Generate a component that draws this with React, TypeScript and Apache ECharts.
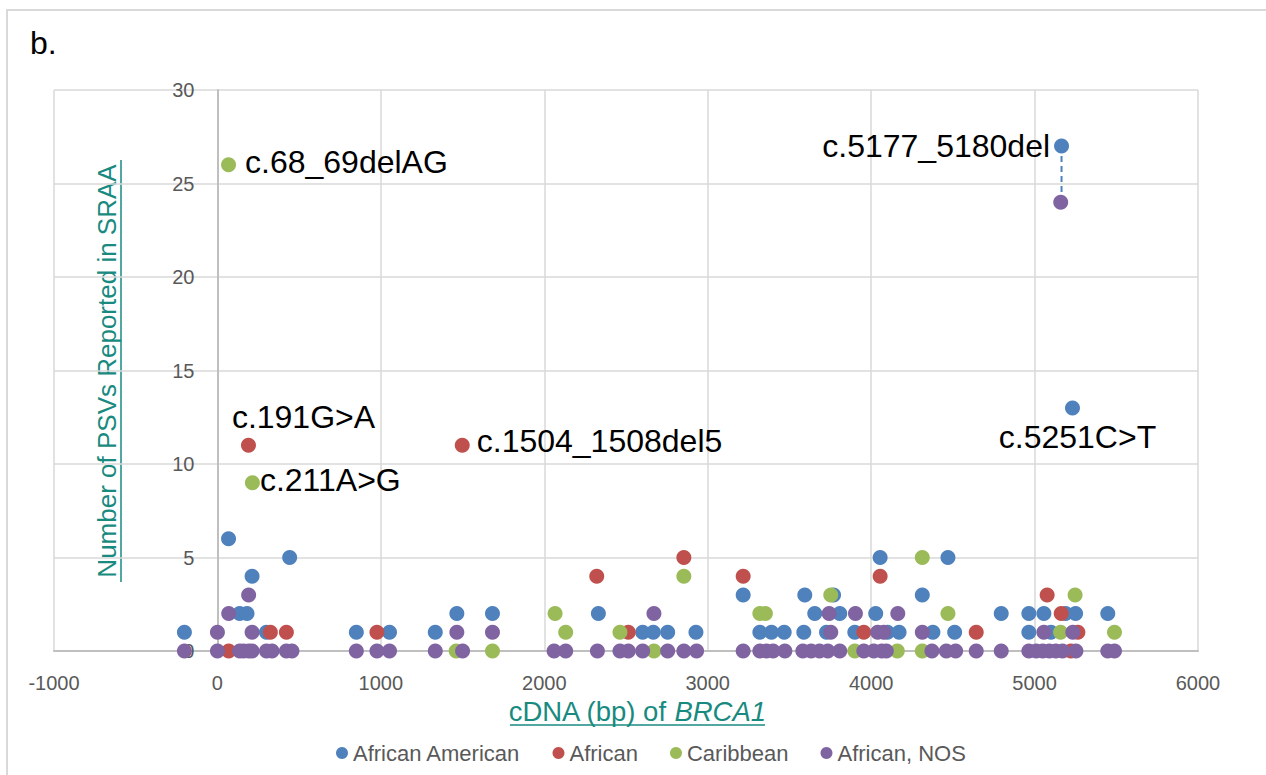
import React, { useEffect, useRef } from "react";
import * as echarts from "echarts";

const FONT = 'Arial, "Liberation Sans", sans-serif';
const TEAL = "#188a80";

const seriesNames = ["African American", "African", "Caribbean", "African, NOS"];
const seriesColors = ["#4F81BD", "#C0504D", "#9BBB59", "#8064A2"];

const xMin = -1000;
const xMax = 6000;
const xStep = 1000;
const yMin = 0;
const yMax = 30;
const yStep = 5;

// [cDNA position (bp), number of PSVs]
const africanAmerican: [number, number][] = [
  [-202, 1], [68, 6], [136, 2], [181, 2], [212, 4], [300, 1], [442, 5], [850, 1], [1053, 1],
  [1333, 1], [1465, 2], [1683, 2], [2331, 2], [2602, 1], [2667, 1], [2755, 1], [2928, 1],
  [3217, 3], [3319, 1], [3390, 1], [3468, 1], [3588, 1], [3594, 3], [3655, 2], [3727, 1],
  [3770, 3], [3808, 2], [3900, 1], [4028, 2], [4055, 5], [4100, 1], [4171, 1], [4313, 3],
  [4378, 1], [4470, 5], [4511, 1], [4796, 2], [4965, 2], [4965, 1], [5057, 2], [5100, 1],
  [5190, 2], [5165, 27], [5232, 13], [5251, 2], [5448, 2],
];

const african: [number, number][] = [
  [69, 0], [190, 11], [324, 1], [422, 1], [976, 1], [1498, 11], [2321, 4], [2514, 1],
  [2854, 5], [3217, 4], [3955, 1], [4055, 4], [4643, 1], [5077, 3], [5163, 2], [5222, 0],
  [5265, 1],
];

const caribbean: [number, number][] = [
  [68, 26], [214, 9], [1461, 0], [1683, 0], [2066, 2], [2131, 1], [2463, 1], [2671, 0],
  [2854, 4], [3319, 2], [3353, 2], [3753, 3], [3900, 0], [4160, 0], [4313, 5], [4313, 0],
  [4470, 2], [5159, 1], [5248, 3], [5489, 1],
];

const africanNos: [number, number][] = [
  [-202, 0], [0, 1], [0, 0], [69, 2], [136, 0], [160, 0], [191, 3], [191, 0], [212, 1],
  [212, 0], [300, 0], [334, 0], [422, 0], [456, 0], [850, 0], [976, 0], [1053, 0], [1333, 0],
  [1465, 1], [1500, 0], [1683, 1], [2060, 0], [2131, 0], [2325, 0], [2463, 0], [2514, 0],
  [2602, 0], [2671, 2], [2755, 0], [2854, 0], [2932, 0], [3217, 0], [3319, 0], [3360, 0],
  [3400, 0], [3472, 0], [3582, 0], [3633, 0], [3684, 0], [3735, 0], [3743, 2], [3753, 1],
  [3808, 0], [3904, 2], [3955, 0], [4016, 0], [4040, 1], [4065, 0], [4077, 1], [4093, 0],
  [4163, 2], [4313, 1], [4372, 0], [4460, 0], [4517, 0], [4643, 0], [4796, 0], [4965, 0],
  [5010, 0], [5050, 0], [5057, 1], [5090, 0], [5130, 0], [5160, 24], [5171, 0], [5234, 1],
  [5253, 0], [5448, 0], [5489, 0],
];

const seriesData = [africanAmerican, african, caribbean, africanNos];

// Annotated variants: series index, point, text
const annotations: { series: number; x: number; y: number; text: string }[] = [
  { series: 2, x: 68, y: 26, text: "c.68_69delAG" },
  { series: 1, x: 190, y: 11, text: "c.191G>A" },
  { series: 2, x: 214, y: 9, text: "c.211A>G" },
  { series: 1, x: 1498, y: 11, text: "c.1504_1508del5" },
  { series: 0, x: 5165, y: 27, text: "c.5177_5180del" },
  { series: 0, x: 5232, y: 13, text: "c.5251C>T" },
];

// same variant reported in two groups (dashed connector)
const connector: [number, number][] = [
  [5165, 27],
  [5165, 24],
];

const labelPlacement: Record<string, any> = {
  "c.68_69delAG": { position: "right", distance: 9, offset: [0, -3] },
  "c.191G>A": { position: "top", distance: 5, offset: [55, 0] },
  "c.211A>G": { position: "right", distance: 0, offset: [0, -3] },
  "c.1504_1508del5": { position: "right", distance: 7, offset: [0, -4] },
  "c.5177_5180del": { position: "left", distance: 4, offset: [0, 0] },
  "c.5251C>T": { position: "bottom", distance: 6, offset: [5, 0] },
};

const GRID = { left: 54, right: 68, top: 90, bottom: 124 };
const CHART_W = 1266;

export default function App() {
  const ref = useRef<HTMLDivElement>(null);

  useEffect(() => {
    if (!ref.current) return;
    const chart = echarts.init(ref.current, undefined, { renderer: "svg" });

    const gridW = CHART_W - GRID.left - GRID.right;
    const yAxisOffset = -((0 - xMin) / (xMax - xMin)) * gridW;

    const scatterSeries = seriesData.map((pts, i) => ({
      name: seriesNames[i],
      type: "scatter",
      symbol: "circle",
      symbolSize: 15,
      itemStyle: { color: seriesColors[i], opacity: 1 },
      z: 3 + i,
      label: { show: false },
      data: pts.map(([x, y]) => {
        const ann = annotations.find((a) => a.series === i && a.x === x && a.y === y);
        if (!ann) return [x, y];
        return {
          value: [x, y],
          label: {
            show: true,
            formatter: ann.text,
            color: "#000",
            fontSize: 32,
            fontFamily: FONT,
            ...labelPlacement[ann.text],
          },
        };
      }),
    }));

    const option: any = {
      animation: false,
      backgroundColor: "#fff",
      grid: { ...GRID, containLabel: false, outerBoundsMode: "none" },
      xAxis: {
        type: "value",
        min: xMin,
        max: xMax,
        interval: xStep,
        axisLine: { show: true, onZero: true, lineStyle: { color: "#bfbfbf", width: 2 } },
        axisTick: { show: false },
        axisLabel: {
          color: "#595959",
          fontSize: 20,
          margin: 22,
          fontFamily: FONT,
          formatter: (v: number) => String(v),
        },
        splitLine: { show: true, lineStyle: { color: "#d9d9d9", width: 1.5 } },
      },
      yAxis: {
        type: "value",
        min: yMin,
        max: yMax,
        interval: yStep,
        offset: yAxisOffset,
        axisLine: { show: true, onZero: false, lineStyle: { color: "#bfbfbf", width: 2 } },
        axisTick: { show: false },
        axisLabel: {
          color: "#595959",
          fontSize: 20,
          margin: 23,
          fontFamily: FONT,
          formatter: (v: number) => String(v),
        },
        splitLine: { show: true, lineStyle: { color: "#d9d9d9", width: 1.5 } },
      },
      legend: {
        data: seriesNames,
        icon: "circle",
        itemWidth: 12,
        itemHeight: 12,
        itemGap: 32,
        left: 331,
        top: 737,
        textStyle: { color: "#595959", fontSize: 22, fontFamily: FONT },
      },
      graphic: [
        {
          type: "rect",
          silent: true,
          shape: { x: 7, y: 10, width: 1300, height: 800 },
          style: { fill: "none", stroke: "#d9d9d9", lineWidth: 2 },
        },
        {
          type: "text",
          x: 30,
          y: 43,
          style: { text: "b.", fontSize: 32, fill: "#000", fontFamily: FONT, verticalAlign: "middle" },
        },
        {
          type: "text",
          x: 107,
          y: 371,
          rotation: Math.PI / 2,
          style: {
            text: "Number of PSVs Reported in SRAA",
            fontSize: 26,
            fill: TEAL,
            fontFamily: FONT,
            align: "center",
            verticalAlign: "middle",
          },
        },
        {
          type: "line",
          silent: true,
          shape: { x1: 121, y1: 160, x2: 121, y2: 582 },
          style: { stroke: TEAL, lineWidth: 1.5 },
        },
        {
          type: "text",
          x: 637,
          y: 711,
          style: {
            text: "{a|cDNA (bp) of }{b|BRCA1}",
            align: "center",
            verticalAlign: "middle",
            rich: {
              a: { fontSize: 27.5, fill: TEAL, fontFamily: FONT },
              b: { fontSize: 27.5, fill: TEAL, fontFamily: FONT, fontStyle: "italic" },
            },
          },
        },
        {
          type: "line",
          silent: true,
          shape: { x1: 510, y1: 725, x2: 765, y2: 725 },
          style: { stroke: TEAL, lineWidth: 1.5 },
        },
      ],
      series: [
        {
          name: "connector",
          type: "line",
          data: connector,
          symbol: "none",
          silent: true,
          z: 2,
          lineStyle: { color: "#4F81BD", width: 2, type: [6, 4] },
        },
        ...scatterSeries,
      ],
    };

    chart.setOption(option);
    return () => chart.dispose();
  }, []);

  return (
    <div
      ref={ref}
      style={{ position: "fixed", left: 0, top: 0, width: CHART_W, height: 775, background: "#fff" }}
    />
  );
}
